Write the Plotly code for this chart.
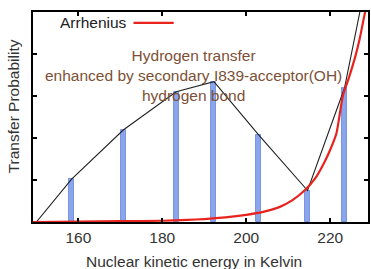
import plotly.graph_objects as go

# Data
bar_x = [158.4, 170.7, 183.3, 192.3, 203.0, 214.6, 223.4]
bar_y = [1.02, 2.19, 3.10, 3.34, 2.07, 0.75, 3.19]

line_x = [150.0, 158.4, 170.7, 183.3, 192.3, 203.0, 214.6, 223.4, 231.0]
line_y = [0.0, 1.02, 2.19, 3.10, 3.34, 2.07, 0.75, 3.19, 6.95]

arr_x = [149, 160, 170, 180, 186, 190, 195, 200, 204, 208, 211, 214, 216.5, 218.5, 220, 221.5, 223, 224.5, 226, 227, 228, 230]
arr_y = [0.0, 0.01, 0.02, 0.03, 0.05, 0.07, 0.11, 0.17, 0.24, 0.36, 0.52, 0.76, 1.05, 1.40, 1.72, 2.12, 3.0, 3.45, 3.95, 4.35, 4.85, 5.8]

x_ticks = [160, 180, 200, 220]
y_ticks = [0, 1, 2, 3, 4, 5]

FONT = "Liberation Sans, Arial, sans-serif"

fig = go.Figure()
fig.add_trace(go.Bar(x=bar_x, y=bar_y, width=1.2,
                     marker=dict(color="#8aa5ec", line=dict(color="#7896e0", width=1)),
                     showlegend=False))
fig.add_trace(go.Scatter(x=line_x, y=line_y, mode="lines",
                         line=dict(color="#222222", width=1.1), showlegend=False))
fig.add_trace(go.Scatter(x=arr_x, y=arr_y, mode="lines", name="Arrhenius",
                         line=dict(color="#e8231e", width=2.2, shape="spline", smoothing=0.6),
                         showlegend=False))

# Legend (text then sample line, gnuplot-style)
fig.add_annotation(xref="x domain", yref="y domain", x=0.075, y=0.948, xanchor="left", yanchor="middle",
                   text="Arrhenius", showarrow=False, font=dict(family=FONT, size=15.5, color="#222222"))
fig.add_shape(type="line", xref="x domain", yref="y domain", x0=0.30, x1=0.42, y0=0.948, y1=0.948,
              line=dict(color="#e8231e", width=2.2))

fig.add_annotation(xref="x domain", yref="y domain", x=0.48, y=0.70, xanchor="center", yanchor="middle",
                   text="Hydrogen transfer<br>enhanced by secondary I839-acceptor(OH)<br>hydrogen bond",
                   showarrow=False, align="center",
                   font=dict(family=FONT, size=15.5, color="#7d5036"))

# Axis titles as annotations for exact placement
fig.add_annotation(xref="paper", yref="paper", x=-0.059, y=0.552, xanchor="center", yanchor="middle",
                   text="Transfer Probability", textangle=-90, showarrow=False,
                   font=dict(family=FONT, size=15.5, color="#333333"))
fig.add_annotation(xref="paper", yref="paper", x=0.48, y=-0.19, xanchor="center", yanchor="middle",
                   text="Nuclear kinetic energy in Kelvin", showarrow=False,
                   font=dict(family=FONT, size=15.5, color="#333333"))

fig.update_layout(
    width=371, height=269,
    margin=dict(l=33, r=1, t=12, b=47),
    paper_bgcolor="white", plot_bgcolor="white",
    font=dict(family=FONT, size=15.5, color="#333333"),
    bargap=0,
    hovermode=False,
    xaxis=dict(range=[149.2, 229.0], tickvals=x_ticks, ticks="inside", ticklen=4, tickwidth=1.5,
               tickcolor="black", showline=True, linecolor="black", linewidth=2, mirror="ticks",
               showgrid=False, zeroline=False, tickfont=dict(size=15.5)),
    yaxis=dict(range=[0, 5], tickvals=y_ticks, showticklabels=False, ticks="inside", ticklen=4,
               tickwidth=1.5, tickcolor="black", showline=True, linecolor="black", linewidth=2,
               mirror="ticks", showgrid=False, zeroline=False),
)

fig.write_html("out.html", config={"displayModeBar": False},
               post_script="document.body.style.margin='0';document.body.style.overflow='hidden';")
